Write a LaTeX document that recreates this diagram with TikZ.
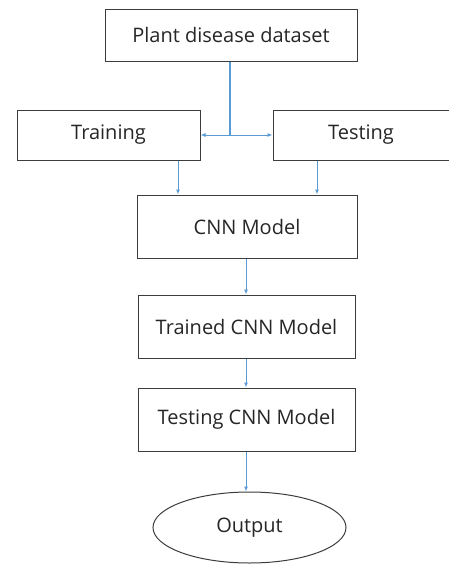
\documentclass[tikz,border=0pt]{standalone}
\usepackage{fontspec}
\setmainfont{Open Sans}
\usetikzlibrary{arrows.meta,shapes.geometric}
\definecolor{linkblue}{RGB}{91,155,213}
\definecolor{boxline}{RGB}{60,60,60}
\begin{document}
\begin{tikzpicture}[x=1pt,y=-1pt,
  box/.style={draw=boxline,line width=1pt,fill=white,inner sep=0pt,font=\fontsize{20}{24}\selectfont,text=black!85},
  link/.style={draw=linkblue,line width=1pt,-{Latex[length=5pt,width=4pt]}},
  trunk/.style={draw=linkblue,line width=2pt}]
\useasboundingbox (0,0) rectangle (448,565);
\fill[white] (0,0) rectangle (448,565);
\node[box,minimum width=252pt,minimum height=52pt] (data) at (231,35) {Plant disease dataset};
\node[box,minimum width=183pt,minimum height=50pt] (train) at (108.5,135) {Training};
\node[box,minimum width=180pt,minimum height=50pt,text width=180pt,align=center] (test) at (363,135) {\hspace*{-4pt}Testing};
\node[box,minimum width=220pt,minimum height=63pt] (cnn) at (247,226.5) {CNN Model};
\node[box,minimum width=217pt,minimum height=63pt] (trained) at (246.5,326.5) {Trained CNN Model};
\node[box,minimum width=217pt,minimum height=63pt] (testcnn) at (246.5,419.5) {Testing CNN Model};
\node[box,ellipse,minimum width=193pt,minimum height=71pt] (out) at (249.5,527.5) {Output};
\coordinate (j) at (230,135);
\draw[trunk] (data.south -| j) -- (j);
\draw[link] (j) -- (train.east);
\draw[link] (j) -- (test.west);
\draw[link] (train.south -| 178,0) -- (cnn.north -| 178,0);
\draw[link] (test.south -| 317,0) -- (cnn.north -| 317,0);
\draw[link] (cnn.south -| 246,0) -- (trained.north -| 246,0);
\draw[link] (trained.south -| 246,0) -- (testcnn.north -| 246,0);
\draw[link] (testcnn.south -| 246,0) -- (out.north -| 246,0);
\end{tikzpicture}
\end{document}
